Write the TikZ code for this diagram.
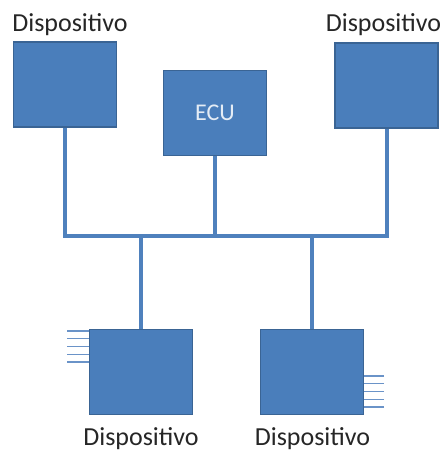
\documentclass[tikz,border=0pt]{standalone}
\usepackage{fontspec}
\setmainfont{Carlito}
\usepackage{tikz}
\usetikzlibrary{positioning}
\definecolor{boxfill}{HTML}{4A7EBB}
\definecolor{boxline}{HTML}{3A6494}
\definecolor{busline}{HTML}{4F81BD}
\definecolor{stubline}{HTML}{6A93C8}
\definecolor{txtgray}{HTML}{262626}
\definecolor{ecutxt}{HTML}{E4ECF5}

\begin{document}
\begin{tikzpicture}[
    x=1pt, y=-1pt,
    devbox/.style={draw=boxline, line width=1.6pt, fill=boxfill, minimum width=103pt, minimum height=85pt, inner sep=0pt},
    lbl/.style={anchor=base, text=txtgray, font=\fontsize{26}{30}\selectfont},
    bus/.style={busline, line width=4pt},
    stub/.style={stubline, line width=1.4pt}
    ]
    \useasboundingbox (0,0) rectangle (446,452);
    % devices
    \node[devbox] (devA) at (65,84.5) {};
    \node[devbox, font=\fontsize{24}{28}\selectfont, text=ecutxt] (ecu) at (215,113) {ECU};
    \node[devbox] (devB) at (386.5,85.5) {};
    \node[devbox] (devC) at (141,372) {};
    \node[devbox] (devD) at (312,372) {};
    % labels
    \node[lbl] (lblA) at (70,32) {Dispositivo};
    \node[lbl] (lblB) at (383.5,32) {Dispositivo};
    \node[lbl] (lblC) at (141,445) {Dispositivo};
    \node[lbl] (lblD) at (312.5,445) {Dispositivo};
    % bus
    \coordinate (busy) at (0,236);
    \draw[bus] (devA.south) |- (devB.south |- busy) -- (devB.south);
    \draw[bus] (ecu.south) -- (ecu.south |- busy);
    \draw[bus] (devC.north) -- (devC.north |- busy);
    \draw[bus] (devD.north) -- (devD.north |- busy);
    % stubs
    \foreach \k in {0,...,4} {
      \coordinate (sC\k) at (67,331+7.75*\k);
      \draw[stub] (sC\k) -- (sC\k -| devC.west);
      \coordinate (sD\k) at (384,376+7.75*\k);
      \draw[stub] (sD\k) -- (sD\k -| devD.east);
    }
  \end{tikzpicture}
\end{document}
